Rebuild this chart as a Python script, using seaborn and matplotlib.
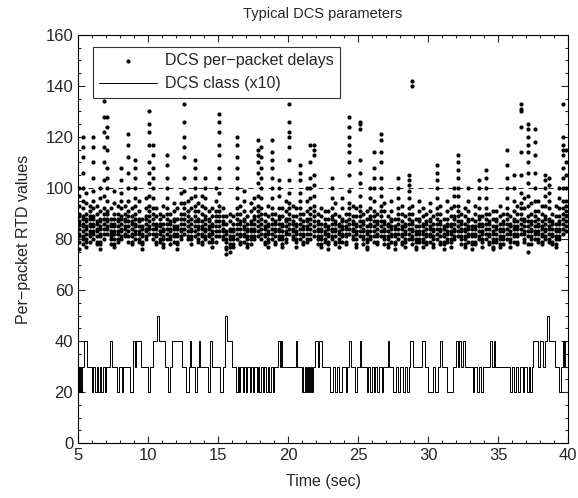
import numpy as np
import pandas as pd
import matplotlib
matplotlib.use("Agg")
import matplotlib.pyplot as plt
import seaborn as sns
from matplotlib.ticker import MultipleLocator

# Per-packet delays (0.25 s columns)
col_times = [
    5.1, 5.35, 5.6, 5.85, 6.1, 6.35, 6.6, 6.85, 7.1, 7.35,
    7.6, 7.85, 8.1, 8.35, 8.6, 8.85, 9.1, 9.35, 9.6, 9.85,
    10.1, 10.35, 10.6, 10.85, 11.1, 11.35, 11.6, 11.85, 12.1, 12.35,
    12.6, 12.85, 13.1, 13.35, 13.6, 13.85, 14.1, 14.35, 14.6, 14.85,
    15.1, 15.35, 15.6, 15.85, 16.1, 16.35, 16.6, 16.85, 17.1, 17.35,
    17.6, 17.85, 18.1, 18.35, 18.6, 18.85, 19.1, 19.35, 19.6, 19.85,
    20.1, 20.35, 20.6, 20.85, 21.1, 21.35, 21.6, 21.85, 22.1, 22.35,
    22.6, 22.85, 23.1, 23.35, 23.6, 23.85, 24.1, 24.35, 24.6, 24.85,
    25.1, 25.35, 25.6, 25.85, 26.1, 26.35, 26.6, 26.85, 27.1, 27.35,
    27.6, 27.85, 28.1, 28.35, 28.6, 28.85, 29.1, 29.35, 29.6, 29.85,
    30.1, 30.35, 30.6, 30.85, 31.1, 31.35, 31.6, 31.85, 32.1, 32.35,
    32.6, 32.85, 33.1, 33.35, 33.6, 33.85, 34.1, 34.35, 34.6, 34.85,
    35.1, 35.35, 35.6, 35.85, 36.1, 36.35, 36.6, 36.85, 37.1, 37.35,
    37.6, 37.85, 38.1, 38.35, 38.6, 38.85, 39.1, 39.35, 39.6, 39.85,
]

col_delays = [
    [76, 79, 81, 82, 84, 86, 87, 89, 90, 93, 97, 100],
    [78, 80, 81, 83, 85, 86, 88, 89, 92, 95, 100, 106, 112, 116, 120],
    [77, 79, 80, 82, 84, 85, 87, 88, 90, 94, 98],
    [79, 81, 82, 83, 85, 86, 88, 89, 91, 93],
    [80, 82, 83, 85, 86, 88, 89, 92, 95, 99, 104, 110, 116, 120],
    [78, 79, 81, 83, 84, 86, 87, 90, 93],
    [76, 78, 79, 81, 82, 84, 85, 87, 88, 91, 96, 100],
    [80, 82, 84, 86, 88, 90, 92, 97, 103, 110, 116, 122, 128, 134],
    [82, 84, 85, 87, 88, 90, 91, 95, 100, 104, 108, 115, 120, 124, 128],
    [78, 80, 81, 82, 83, 85, 86, 88, 92],
    [77, 78, 80, 82, 83, 85, 86, 88, 90, 94, 99],
    [79, 80, 82, 83, 85, 87, 88, 90, 93],
    [80, 81, 83, 84, 86, 88, 89, 92, 95, 98, 103, 108],
    [81, 82, 84, 85, 87, 88, 90, 93],
    [79, 81, 83, 85, 87, 89, 91, 95, 100, 106, 112, 117, 121],
    [78, 79, 81, 82, 84, 86, 87, 89, 92],
    [80, 82, 83, 85, 86, 88, 90, 93, 96, 100, 104, 108, 111],
    [79, 80, 82, 83, 85, 87, 88, 91, 95],
    [76, 78, 79, 81, 82, 84, 85, 88],
    [80, 81, 83, 84, 86, 88, 89, 92, 96],
    [82, 84, 85, 87, 89, 91, 93, 97, 102, 106, 110, 117, 122, 125, 130],
    [80, 82, 84, 86, 88, 90, 92, 96, 100, 104, 108, 113, 117],
    [78, 79, 81, 82, 84, 85, 86, 89, 92],
    [79, 80, 82, 83, 85, 86, 88, 90],
    [77, 78, 80, 81, 83, 84, 86, 89, 93],
    [80, 82, 84, 86, 88, 90, 92, 96, 100, 104, 109, 113],
    [78, 80, 81, 83, 84, 86, 87, 90],
    [79, 81, 82, 84, 85, 87, 88, 91, 94],
    [76, 78, 79, 81, 82, 84, 85, 88, 92],
    [80, 81, 83, 84, 86, 88, 90, 94, 98],
    [82, 84, 86, 88, 90, 92, 94, 99, 104, 112, 116, 120, 126, 133, 139],
    [80, 81, 83, 85, 87, 89, 91, 95],
    [78, 80, 81, 83, 84, 86, 88, 92, 96],
    [81, 83, 85, 87, 89, 91, 93, 97, 100, 104, 108, 111],
    [79, 80, 82, 84, 85, 87, 88, 91, 94],
    [78, 79, 81, 82, 84, 85, 87, 90, 93, 97],
    [80, 81, 83, 84, 86, 88, 89, 92, 96, 100, 104],
    [79, 81, 82, 84, 85, 87, 88, 91],
    [77, 79, 80, 82, 83, 85, 86, 89, 92],
    [79, 81, 83, 85, 87, 89, 91, 95, 100],
    [81, 83, 85, 87, 89, 91, 93, 98, 104, 108, 113, 117, 122, 126, 129],
    [80, 81, 83, 84, 86, 87, 89, 92],
    [74, 76, 77, 79, 80, 82, 83, 86, 89],
    [75, 77, 78, 80, 81, 83, 84, 87, 90],
    [77, 78, 80, 81, 83, 84, 86, 89],
    [80, 82, 84, 86, 88, 90, 92, 96, 100, 104, 108, 112, 117, 120],
    [78, 79, 81, 82, 84, 86, 87, 90, 93],
    [79, 81, 82, 84, 85, 87, 88, 91, 95, 99],
    [77, 78, 80, 81, 83, 84, 86, 89],
    [78, 80, 81, 83, 84, 86, 87, 91, 94],
    [80, 81, 83, 84, 86, 88, 89, 92, 96],
    [81, 83, 85, 87, 89, 91, 93, 97, 102, 106, 110, 113, 115, 119],
    [80, 82, 84, 86, 88, 90, 92, 96, 100, 104, 108, 112, 116],
    [78, 79, 81, 82, 84, 85, 87, 90],
    [77, 79, 80, 82, 83, 85, 86, 89, 93],
    [80, 82, 84, 86, 88, 90, 92, 96, 100, 104, 108, 111, 114, 119],
    [78, 79, 81, 83, 84, 86, 87, 90],
    [80, 81, 83, 84, 86, 88, 89, 92, 97, 100, 103],
    [77, 78, 80, 81, 83, 85, 86, 89, 92],
    [79, 80, 82, 83, 85, 87, 88, 91, 95],
    [82, 84, 86, 88, 90, 92, 94, 98, 103, 111, 116, 120, 122, 126, 133],
    [80, 81, 83, 84, 86, 87, 89, 93],
    [77, 79, 80, 82, 83, 85, 86, 89, 92],
    [80, 82, 84, 86, 88, 90, 92, 95, 98, 103, 106, 109],
    [78, 79, 81, 82, 84, 85, 87, 90],
    [79, 80, 82, 84, 85, 87, 88, 91, 95, 100],
    [80, 82, 84, 86, 88, 90, 92, 96, 100, 104, 110, 117],
    [81, 83, 85, 87, 89, 91, 93, 97, 101, 105, 113, 115, 117],
    [78, 80, 81, 83, 84, 86, 87, 90],
    [77, 78, 80, 81, 83, 84, 86, 89, 92],
    [79, 80, 82, 83, 85, 86, 88, 91],
    [76, 78, 79, 81, 82, 84, 85, 88, 91],
    [80, 81, 83, 84, 86, 88, 89, 92, 96, 100, 104],
    [78, 79, 81, 83, 84, 86, 87, 90, 94],
    [77, 79, 80, 82, 83, 85, 86, 89],
    [79, 81, 82, 84, 85, 87, 88, 92, 96],
    [78, 79, 81, 82, 84, 85, 87, 90],
    [82, 84, 86, 88, 90, 92, 94, 99, 105, 110, 114, 117, 120, 124, 128],
    [80, 81, 83, 84, 86, 87, 89, 93],
    [77, 78, 80, 82, 83, 85, 86, 89, 92],
    [81, 83, 85, 87, 89, 91, 93, 97, 102, 106, 111, 123, 125, 126],
    [78, 80, 81, 83, 84, 86, 87, 90],
    [76, 77, 79, 80, 82, 83, 85, 88, 91],
    [80, 81, 83, 85, 86, 88, 89, 92, 96, 100],
    [79, 81, 83, 85, 87, 89, 91, 95, 100, 104, 108, 114],
    [78, 79, 81, 82, 84, 86, 87, 90],
    [81, 83, 85, 87, 89, 91, 93, 97, 100, 104, 110, 114, 119, 121],
    [78, 80, 81, 83, 84, 86, 87, 91, 94],
    [77, 78, 80, 81, 83, 85, 86, 89],
    [79, 81, 82, 84, 85, 87, 88, 91, 95],
    [76, 78, 79, 81, 82, 84, 85, 88],
    [80, 82, 84, 86, 88, 90, 92, 96, 100, 104],
    [78, 79, 81, 82, 84, 85, 87, 90, 93],
    [77, 79, 80, 82, 83, 85, 86, 89],
    [80, 82, 84, 86, 88, 90, 92, 96, 99, 101, 103, 105],
    [78, 80, 81, 83, 84, 86, 87, 90, 93, 140, 142],
    [76, 77, 79, 80, 82, 83, 85, 88],
    [79, 80, 82, 83, 85, 87, 88, 91, 95],
    [77, 79, 80, 82, 83, 85, 86, 89, 92],
    [78, 79, 81, 82, 84, 86, 87, 90],
    [79, 81, 82, 84, 85, 87, 88, 91, 94],
    [77, 78, 80, 81, 83, 84, 86, 89],
    [80, 82, 84, 86, 88, 90, 92, 96, 100, 103, 106, 109],
    [78, 79, 81, 83, 84, 86, 87, 90, 93],
    [76, 78, 79, 81, 82, 84, 85, 88],
    [79, 80, 82, 83, 85, 86, 88, 91, 95],
    [77, 79, 80, 82, 83, 85, 86, 89, 92],
    [80, 81, 83, 84, 86, 88, 89, 93, 97, 100],
    [81, 83, 85, 87, 89, 91, 93, 97, 100, 104, 107, 110, 113],
    [78, 80, 81, 83, 84, 86, 87, 90],
    [77, 78, 80, 81, 83, 84, 86, 89, 92],
    [79, 81, 82, 84, 85, 87, 88, 91, 95, 100],
    [76, 78, 79, 81, 82, 84, 85, 88],
    [78, 79, 81, 82, 84, 85, 87, 90, 93],
    [80, 81, 83, 85, 86, 88, 89, 92, 96, 100, 103],
    [77, 79, 80, 82, 83, 85, 86, 89],
    [80, 82, 84, 86, 88, 90, 92, 96, 100, 104, 107],
    [78, 79, 81, 82, 84, 86, 87, 90],
    [76, 77, 79, 80, 82, 83, 85, 88, 91],
    [79, 80, 82, 84, 85, 87, 88, 91],
    [77, 78, 80, 81, 83, 84, 86, 89, 93],
    [78, 80, 81, 83, 84, 86, 87, 90],
    [80, 82, 84, 86, 88, 90, 92, 96, 100, 104, 109, 115],
    [77, 79, 80, 82, 83, 85, 86, 89],
    [79, 81, 82, 84, 85, 87, 88, 91, 95, 100, 105],
    [78, 79, 81, 82, 84, 85, 87, 90, 93],
    [82, 84, 86, 88, 90, 92, 94, 98, 105, 114, 124, 130, 131, 133],
    [79, 80, 82, 83, 85, 87, 88, 92, 96],
    [75, 78, 81, 83, 85, 87, 89, 93, 97, 102, 106, 110, 114, 117, 120, 123, 125],
    [78, 80, 81, 83, 84, 86, 87, 90, 94],
    [80, 82, 83, 85, 87, 89, 91, 95, 100, 106, 113, 118, 123],
    [79, 80, 82, 83, 85, 86, 88, 91, 95],
    [78, 79, 81, 82, 84, 85, 87, 90, 93],
    [80, 81, 83, 84, 86, 88, 89, 93, 97, 100, 103, 105],
    [79, 80, 82, 84, 85, 87, 88, 92, 95, 98, 101, 104],
    [78, 79, 81, 82, 84, 86, 87, 90],
    [77, 78, 80, 81, 83, 84, 86, 89, 93],
    [80, 81, 83, 84, 86, 87, 89, 92, 96, 100],
    [82, 84, 86, 88, 90, 92, 95, 100, 104, 108, 113, 115, 117, 120, 133],
    [83, 85, 87, 89, 91, 93, 95, 100, 105, 110, 115],
]

# DCS class (x10), step changes: time at which each level starts
class_times = [
    5.0, 5.08, 5.15, 5.22, 5.3, 5.45, 5.62, 5.98, 6.1, 6.21,
    6.33, 6.45, 6.55, 6.67, 6.8, 6.9, 7.0, 7.25, 7.4, 7.76,
    7.95, 8.12, 8.24, 8.71, 8.9, 9.05, 9.15, 9.5, 10.02, 10.14,
    10.38, 10.62, 10.81, 11.21, 11.45, 11.57, 11.74, 12.4, 12.71, 12.95,
    13.0, 13.07, 13.36, 13.48, 13.67, 13.72, 14.31, 14.4, 14.45, 14.55,
    15.14, 15.33, 15.5, 15.67, 16.02, 16.29, 16.45, 16.5, 16.6, 16.75,
    16.85, 17.0, 17.1, 17.25, 17.35, 17.5, 17.6, 17.75, 17.85, 17.95,
    18.05, 18.2, 18.3, 18.45, 18.55, 18.65, 18.75, 18.9, 19.0, 19.3,
    19.4, 19.5, 19.6, 20.57, 20.67, 20.98, 21.05, 21.1, 21.2, 21.25,
    21.35, 21.4, 21.5, 21.55, 21.65, 21.7, 21.8, 21.93, 22.1, 22.24,
    22.4, 23.0, 23.24, 23.36, 23.48, 23.67, 23.83, 24.14, 24.24, 24.38,
    24.52, 24.78, 24.95, 25.1, 25.19, 25.62, 25.74, 25.86, 26.0, 26.1,
    26.24, 26.38, 26.52, 26.69, 26.81, 27.1, 27.19, 27.52, 27.71, 27.88,
    28.0, 28.24, 28.36, 28.48, 28.64, 28.71, 28.95, 29.55, 29.79, 30.02,
    30.38, 30.5, 30.67, 30.86, 31.0, 31.33, 31.81, 31.98, 32.1, 32.19,
    32.33, 32.48, 32.64, 33.19, 33.29, 33.48, 33.6, 33.76, 33.9, 34.43,
    34.57, 34.67, 34.81, 35.86, 35.98, 36.14, 36.28, 36.45, 36.57, 36.76,
    36.86, 37.05, 37.17, 37.29, 37.4, 37.48, 37.88, 38.0, 38.19, 38.36,
    38.48, 38.62, 39.07, 39.31, 39.48, 39.62, 39.71, 39.79, 40.0,
]
class_levels = [
    30, 20, 30, 20, 30, 40, 30, 20, 30, 20,
    30, 20, 30, 20, 30, 20, 30, 40, 30, 20,
    30, 20, 30, 20, 40, 30, 40, 30, 20, 30,
    40, 50, 40, 30, 20, 30, 40, 30, 20, 30,
    40, 30, 20, 30, 40, 30, 20, 30, 40, 30,
    20, 30, 50, 40, 30, 20, 30, 20, 30, 20,
    30, 20, 30, 20, 30, 20, 30, 20, 30, 20,
    30, 20, 30, 20, 30, 20, 30, 20, 30, 40,
    30, 40, 30, 40, 30, 20, 30, 20, 30, 20,
    30, 20, 30, 20, 30, 20, 30, 40, 30, 40,
    30, 20, 30, 20, 30, 20, 30, 20, 30, 40,
    30, 20, 30, 40, 30, 20, 30, 20, 30, 20,
    30, 20, 30, 20, 30, 40, 30, 20, 30, 20,
    30, 20, 30, 20, 30, 40, 30, 40, 30, 20,
    30, 20, 30, 40, 30, 20, 30, 40, 30, 40,
    30, 40, 30, 20, 30, 20, 30, 20, 30, 40,
    30, 40, 30, 20, 30, 20, 30, 20, 30, 20,
    30, 20, 30, 20, 30, 40, 30, 40, 30, 40,
    50, 40, 30, 20, 30, 40, 30, 40, 40,
]

ref_level = 100

# Build long tables
delays = pd.DataFrame(
    [(t, d) for t, col in zip(col_times, col_delays, strict=True) for d in col],
    columns=["time", "delay"],
)
dcs_class = pd.DataFrame({"time": class_times, "level": class_levels})

sns.set_style("ticks")
plt.rcParams["font.family"] = ["Liberation Sans", "DejaVu Sans"]

fig = plt.figure(figsize=(5.78, 4.98), dpi=100)
ax = fig.add_axes([0.135, 0.11, 0.848, 0.82])

sns.scatterplot(data=delays, x="time", y="delay", color="black", s=9,
                linewidth=0, marker="o", label="DCS per\u2212packet delays", ax=ax)
sns.lineplot(data=dcs_class, x="time", y="level", color="black", linewidth=0.7,
             drawstyle="steps-post", estimator=None, label="DCS class (x10)", ax=ax)
ax.axhline(ref_level, color="black", linewidth=0.6, linestyle=(0, (6, 6)))

ax.set_xlim(5, 40)
ax.set_ylim(0, 160)
ax.xaxis.set_major_locator(MultipleLocator(5))
ax.xaxis.set_minor_locator(MultipleLocator(1))
ax.yaxis.set_major_locator(MultipleLocator(20))
ax.yaxis.set_minor_locator(MultipleLocator(5))
ax.tick_params(which="both", direction="in", top=True, right=True,
               labelsize=12, width=0.8)
ax.tick_params(which="major", length=5)
ax.tick_params(which="minor", length=2.5)
for sp in ax.spines.values():
    sp.set_linewidth(0.8)
    sp.set_color("black")

ax.set_xlabel("Time (sec)", fontsize=11.5, labelpad=8)
ax.set_ylabel("Per\u2212packet RTD values", fontsize=11.5, labelpad=10)
ax.set_title("Typical DCS parameters", fontsize=10.5, pad=12)

leg = ax.legend(loc="upper left", bbox_to_anchor=(0.03, 0.97), fontsize=11.5,
                frameon=True, fancybox=False, edgecolor="black",
                handlelength=3.6, borderpad=0.4, labelspacing=0.5,
                handletextpad=0.5, borderaxespad=0, markerscale=1.0)
leg.get_frame().set_linewidth(0.8)

fig.savefig("out.png", dpi=100)
